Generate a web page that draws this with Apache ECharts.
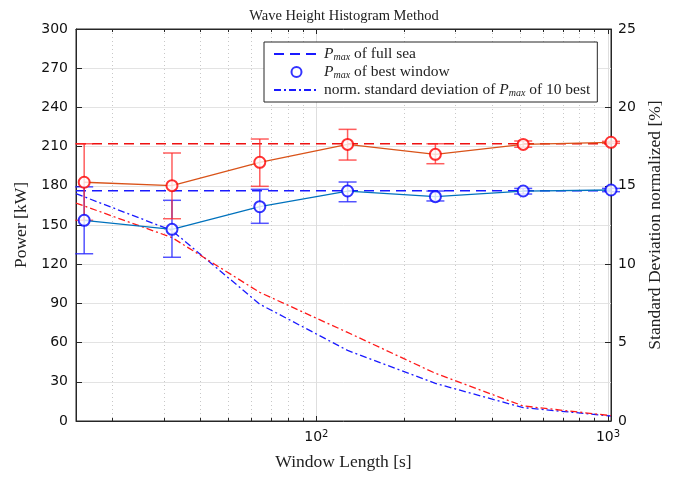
<!DOCTYPE html>
<html>
<head>
<meta charset="utf-8">
<script src="https://cdn.jsdelivr.net/npm/echarts@6/dist/echarts.min.js"></script>
<style>html,body{margin:0;padding:0;background:#fff}#chart{width:680px;height:477px}</style>
</head>
<body>
<div id="chart"></div>
<script>
// window lengths [s]
var windows = [16, 32, 64, 128, 256, 512, 1024];
// P_max of best window [kW]
var bestRed  = [182.7, 180.1, 198.0, 211.7, 204.1, 211.7, 213.3];
var bestBlue = [153.6, 146.7, 164.0, 176.0, 171.7, 176.0, 176.8];
// error bar limits [kW]
var errRedLow   = [153.6, 154.8, 179.6, 199.7, 196.9, 209.5, 212.5];
var errRedHigh  = [212.2, 205.1, 215.8, 223.2, 212.2, 214.3, 214.0];
var errBlueLow  = [128.0, 125.3, 151.3, 167.8, 168.4, 173.7, 175.5];
var errBlueHigh = [179.2, 168.9, 177.3, 182.9, 176.0, 178.0, 178.0];
// P_max of full sea [kW]
var fullSeaRed = 212.2;
var fullSeaBlue = 176.2;
// normalized standard deviation [%], first point read at the left edge
var stdX    = [15, 32, 64, 128, 256, 512, 1024];
var stdBlue = [14.5, 12.15, 7.45, 4.5, 2.4, 0.85, 0.32];
var stdRed  = [13.9, 11.7, 8.2, 5.65, 3.04, 0.96, 0.34];
// axes
var xRange = [15, 1024];
var xMajor = [100, 1000];
var xMinor = [20, 30, 40, 50, 60, 70, 80, 90, 200, 300, 400, 500, 600, 700, 800, 900];

var serif = 'Liberation Serif';
var sans = 'DejaVu Sans';
var axisCol = '#262626';

function pairs(xs, ys){ return xs.map(function(x, i){ return [x, ys[i]]; }); }
function triples(xs, lo, hi){ return xs.map(function(x, i){ return [x, lo[i], hi[i]]; }); }

function errRender(color){
  return function(params, api){
    var x = api.value(0);
    var lo = api.coord([x, api.value(1)]);
    var hi = api.coord([x, api.value(2)]);
    var w = 9;
    var st = {stroke: color, lineWidth: 1.5, fill: null};
    return {type: 'group', children: [
      {type: 'line', shape: {x1: lo[0], y1: lo[1], x2: hi[0], y2: hi[1]}, style: st},
      {type: 'line', shape: {x1: lo[0]-w, y1: lo[1], x2: lo[0]+w, y2: lo[1]}, style: st},
      {type: 'line', shape: {x1: hi[0]-w, y1: hi[1], x2: hi[0]+w, y2: hi[1]}, style: st}
    ]};
  };
}

var legendText = {
  fullsea: '{i|P}{s|max} of full sea',
  best: '{i|P}{s|max} of best window',
  std: 'norm. standard deviation of {i|P}{s|max} of 10 best'
};

function logX(pos, opts){
  return Object.assign({
    type: 'log', logBase: 10, min: xRange[0], max: xRange[1], position: pos,
    axisLine: {show: false}, axisLabel: {show: false},
    axisTick: {show: false}, splitLine: {show: false}, minorTick: {show: false}
  }, opts);
}

var nameStyle = {fontFamily: serif, fontSize: 17.5, color: '#222'};

var chart = echarts.init(document.getElementById('chart'));
chart.setOption({
  animation: false,
  title: {
    text: 'Wave Height Histogram Method', left: 339, top: 4, textAlign: 'center',
    textStyle: {fontFamily: serif, fontSize: 14.5, fontWeight: 'normal', color: '#222'}
  },
  grid: {left: 76, right: 69, top: 29, bottom: 56, show: true, borderColor: axisCol, borderWidth: 1},
  legend: {
    orient: 'vertical', left: 264, top: 42, itemGap: 2, itemWidth: 45, itemHeight: 10,
    padding: [4, 7, 4, 9], borderColor: axisCol, borderWidth: 1, backgroundColor: '#fff',
    data: [
      {name: 'fullsea', itemStyle: {opacity: 0}},
      {name: 'best'},
      {name: 'std', itemStyle: {opacity: 0}}
    ],
    formatter: function(n){ return legendText[n]; },
    textStyle: {
      fontFamily: serif, fontSize: 15.5, color: '#222',
      rich: {
        i: {fontFamily: serif, fontSize: 15.5, fontStyle: 'italic', color: '#222'},
        s: {fontFamily: serif, fontSize: 10, fontStyle: 'italic', color: '#222', verticalAlign: 'bottom', lineHeight: 10, padding: [6, 0, 0, 0]}
      }
    }
  },
  xAxis: [
    logX('bottom', {
      name: 'Window Length [s]', nameLocation: 'middle', nameGap: 32, nameTextStyle: nameStyle,
      axisLine: {show: true, lineStyle: {color: axisCol}},
      axisTick: {show: true, inside: true, length: 5, customValues: xMajor, lineStyle: {color: axisCol}},
      axisLabel: {
        show: true, customValues: xMajor, margin: 8,
        formatter: function(v){ return '{n|10}{e|' + Math.round(Math.log10(v)) + '}'; },
        rich: {
          n: {fontFamily: sans, fontSize: 14, color: '#111'},
          e: {fontFamily: sans, fontSize: 10, color: '#111', verticalAlign: 'top', padding: [0, 0, 7, 0]}
        }
      },
      splitLine: {show: true, lineStyle: {color: '#dedede', width: 1}}
    }),
    logX('bottom', {
      axisTick: {show: true, inside: true, length: 3, customValues: xMinor, lineStyle: {color: axisCol}},
      splitLine: {show: true, lineStyle: {color: '#c8c8c8', type: [1, 3], width: 1}}
    }),
    logX('top', {
      axisLine: {show: true, lineStyle: {color: axisCol}},
      axisTick: {show: true, inside: true, length: 5, customValues: xMajor, lineStyle: {color: axisCol}}
    }),
    logX('top', {
      axisTick: {show: true, inside: true, length: 3, customValues: xMinor, lineStyle: {color: axisCol}}
    })
  ],
  yAxis: [
    {
      type: 'value', min: 0, max: 300, interval: 30, position: 'left',
      name: 'Power [kW]', nameLocation: 'middle', nameGap: 42, nameTextStyle: nameStyle,
      axisLine: {show: true, lineStyle: {color: axisCol}},
      axisTick: {show: true, inside: true, length: 6, lineStyle: {color: axisCol}},
      axisLabel: {fontFamily: sans, fontSize: 14, color: '#111', margin: 8},
      splitLine: {show: true, lineStyle: {color: '#e3e3e3', width: 1}}
    },
    {
      type: 'value', min: 0, max: 25, interval: 5, position: 'right',
      name: 'Standard Deviation normalized [%]', nameLocation: 'middle', nameGap: 32, nameTextStyle: nameStyle,
      axisLine: {show: true, lineStyle: {color: axisCol}},
      axisTick: {show: true, inside: true, length: 6, lineStyle: {color: axisCol}},
      axisLabel: {fontFamily: sans, fontSize: 14, color: '#111', margin: 7},
      splitLine: {show: false}
    }
  ],
  series: [
    {
      name: 'fullsea', type: 'line', data: pairs(xRange, [fullSeaBlue, fullSeaBlue]),
      symbol: 'none', lineStyle: {color: '#1a1aff', width: 1.3, type: [10, 6]}, itemStyle: {color: '#1a1aff'}, z: 3
    },
    {
      name: 'fullseaRed', type: 'line', data: pairs(xRange, [fullSeaRed, fullSeaRed]),
      symbol: 'none', lineStyle: {color: '#ee1111', width: 1.3, type: [10, 6]}, z: 3
    },
    {
      name: 'std', type: 'line', yAxisIndex: 1, data: pairs(stdX, stdBlue),
      symbol: 'none', lineStyle: {color: '#1a1aff', width: 1.3, type: [7, 3, 2, 3]}, itemStyle: {color: '#1a1aff'}, z: 3
    },
    {
      name: 'stdRed', type: 'line', yAxisIndex: 1, data: pairs(stdX, stdRed),
      symbol: 'none', lineStyle: {color: '#ff1a1a', width: 1.3, type: [7, 3, 2, 3]}, z: 3
    },
    {
      name: 'errBlue', type: 'custom', data: triples(windows, errBlueLow, errBlueHigh),
      encode: {x: 0, y: [1, 2]}, renderItem: errRender('rgba(40,40,255,0.8)'), z: 4
    },
    {
      name: 'errRed', type: 'custom', data: triples(windows, errRedLow, errRedHigh),
      encode: {x: 0, y: [1, 2]}, renderItem: errRender('rgba(255,40,40,0.75)'), z: 4
    },
    {
      name: 'bestBlueLine', type: 'line', data: pairs(windows, bestBlue),
      symbol: 'none', lineStyle: {color: '#0072bd', width: 1.3}, z: 5
    },
    {
      name: 'bestRedLine', type: 'line', data: pairs(windows, bestRed),
      symbol: 'none', lineStyle: {color: '#d95319', width: 1.3}, z: 5
    },
    {
      name: 'best', type: 'scatter', data: pairs(windows, bestBlue),
      symbol: 'emptyCircle', symbolSize: 11,
      itemStyle: {color: '#0000ff', borderColor: '#0000ff', borderWidth: 1.5}, z: 6
    },
    {
      name: 'bestRed', type: 'scatter', data: pairs(windows, bestRed),
      symbol: 'emptyCircle', symbolSize: 11,
      itemStyle: {color: '#ff0000', borderColor: '#ff0000', borderWidth: 1.5}, z: 6
    }
  ]
});
</script>
</body>
</html>
